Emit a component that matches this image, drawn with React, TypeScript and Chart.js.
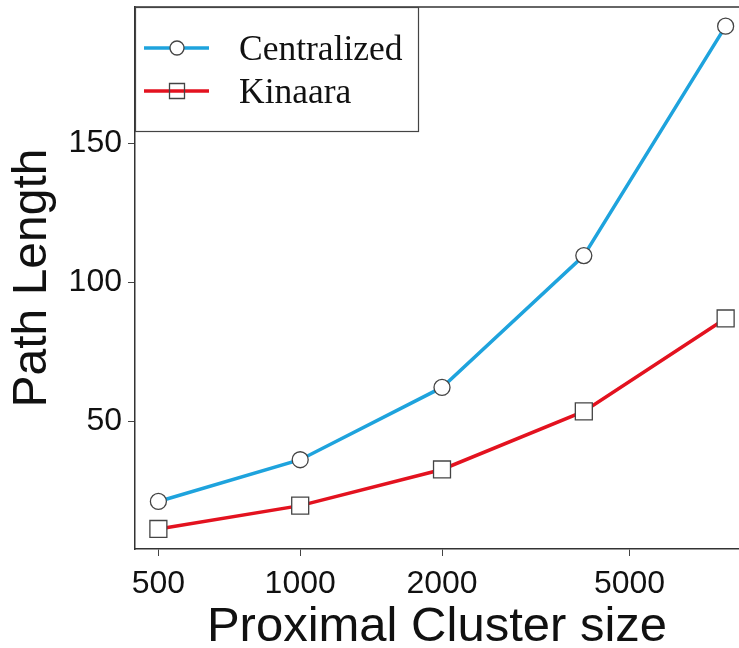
import React, { useEffect, useRef } from 'react';
import { Chart, registerables } from 'chart.js';

Chart.register(...registerables);

// ---- data ----
const clusterSizes = [500, 1000, 2000, 4000, 8000];
const centralizedPath = [21.3, 36.3, 62.3, 109.7, 192.2];
const kinaaraPath = [11.4, 19.8, 32.8, 53.7, 87.1];
const xTickValues = [500, 1000, 2000, 5000];
const yTickValues = [50, 100, 150];
const seriesLabels = ['Centralized', 'Kinaara'];
const seriesColors = ['#1ea3dd', '#e3121f'];
const seriesMarkers = ['circle', 'rect'];

const W = 739;
const H = 648;
const SANS = '"Liberation Sans", Arial, Helvetica, sans-serif';
const SERIF = '"Liberation Serif", "Times New Roman", Times, serif';

const frameLegendPlugin = {
  id: 'frameLegend',
  afterDraw(chart: any) {
    const { ctx, chartArea } = chart;
    ctx.save();
    // top frame line
    ctx.strokeStyle = '#333';
    ctx.lineWidth = 1.5;
    ctx.beginPath();
    ctx.moveTo(chartArea.left, chartArea.top);
    ctx.lineTo(chartArea.right, chartArea.top);
    ctx.stroke();

    // legend box
    const bx = chartArea.left;
    const by = chartArea.top;
    const bw = 283;
    const bh = 124;
    ctx.fillStyle = '#fff';
    ctx.fillRect(bx, by, bw, bh);
    ctx.lineWidth = 1.2;
    ctx.strokeStyle = '#444';
    ctx.strokeRect(bx + 0.5, by + 0.5, bw, bh);

    chart.data.datasets.forEach((ds: any, i: number) => {
      const y = by + 41 + i * 43;
      ctx.strokeStyle = ds.borderColor;
      ctx.lineWidth = 3.5;
      ctx.beginPath();
      ctx.moveTo(bx + 9, y);
      ctx.lineTo(bx + 74, y);
      ctx.stroke();
      const cx = bx + 42;
      ctx.strokeStyle = '#444';
      ctx.lineWidth = 1.3;
      ctx.beginPath();
      if (ds.pointStyle === 'circle') {
        ctx.arc(cx, y, 7, 0, Math.PI * 2);
        ctx.fillStyle = '#fff';
        ctx.fill();
      } else {
        ctx.rect(cx - 7.5, y - 7.5, 15, 15);
      }
      ctx.stroke();
      ctx.fillStyle = '#111';
      ctx.font = `35.5px ${SERIF}`;
      ctx.textAlign = 'left';
      ctx.textBaseline = 'alphabetic';
      ctx.fillText(ds.label, bx + 104, y + 12);
    });
    ctx.restore();
  },
};

export default function App() {
  const canvasRef = useRef<HTMLCanvasElement | null>(null);

  useEffect(() => {
    document.body.style.margin = '0';
    const canvas = canvasRef.current;
    if (!canvas) return;
    const series = [centralizedPath, kinaaraPath];
    const chart = new Chart(canvas, {
      type: 'line',
      data: {
        datasets: series.map((vals, i) => ({
          label: seriesLabels[i],
          data: clusterSizes.map((x, j) => ({ x, y: vals[j] })),
          borderColor: seriesColors[i],
          backgroundColor: '#fff',
          borderWidth: 3.5,
          pointStyle: seriesMarkers[i],
          pointRadius: seriesMarkers[i] === 'circle' ? 8 : 12,
          pointBorderColor: '#444',
          pointBackgroundColor: '#fff',
          pointBorderWidth: 1.3,
          tension: 0,
        })),
      },
      options: {
        animation: false,
        responsive: false,
        devicePixelRatio: 1,
        layout: { autoPadding: false, padding: { top: 7, left: 0, right: 0, bottom: 0 } },
        plugins: { legend: { display: false }, tooltip: { enabled: false } },
        scales: {
          x: {
            type: 'logarithmic',
            min: 446,
            max: 8540,
            afterBuildTicks: (s: any) => {
              s.ticks = xTickValues.map((v) => ({ value: v }));
            },
            afterFit: (s: any) => {
              s.height = 99;
              s.paddingLeft = 0;
              s.paddingRight = 0;
            },
            ticks: {
              callback: (v: any) => String(v),
              font: { family: SANS, size: 32 },
              color: '#111',
              padding: 9,
              maxRotation: 0,
              autoSkip: false,
            },
            grid: { display: true, drawOnChartArea: false, drawTicks: true, tickLength: 7, color: '#444', lineWidth: 1 },
            border: { display: true, color: '#333', width: 1.5 },
            title: {
              display: true,
              text: 'Proximal Cluster size',
              font: { family: SANS, size: 49, lineHeight: 0.8 },
              color: '#111',
              padding: { top: 0, bottom: 1 },
            },
          },
          y: {
            type: 'linear',
            min: 4.2,
            max: 199.1,
            afterBuildTicks: (s: any) => {
              s.ticks = yTickValues.map((v) => ({ value: v }));
            },
            afterFit: (s: any) => {
              s.width = 135;
              s.paddingTop = 0;
              s.paddingBottom = 0;
            },
            ticks: {
              callback: (v: any) => String(v),
              font: { family: SANS, size: 32 },
              color: '#111',
              padding: 6,
            },
            grid: { display: true, drawOnChartArea: false, drawTicks: true, tickLength: 7, color: '#444', lineWidth: 1 },
            border: { display: true, color: '#333', width: 1.5 },
            title: {
              display: true,
              text: 'Path Length',
              font: { family: SANS, size: 48, lineHeight: 0.8 },
              color: '#111',
              padding: { top: 14, bottom: 0 },
            },
          },
        },
      },
      plugins: [frameLegendPlugin],
    } as any);
    return () => chart.destroy();
  }, []);

  return (
    <canvas
      ref={canvasRef}
      width={W}
      height={H}
      style={{ display: 'block', width: W, height: H }}
    />
  );
}
